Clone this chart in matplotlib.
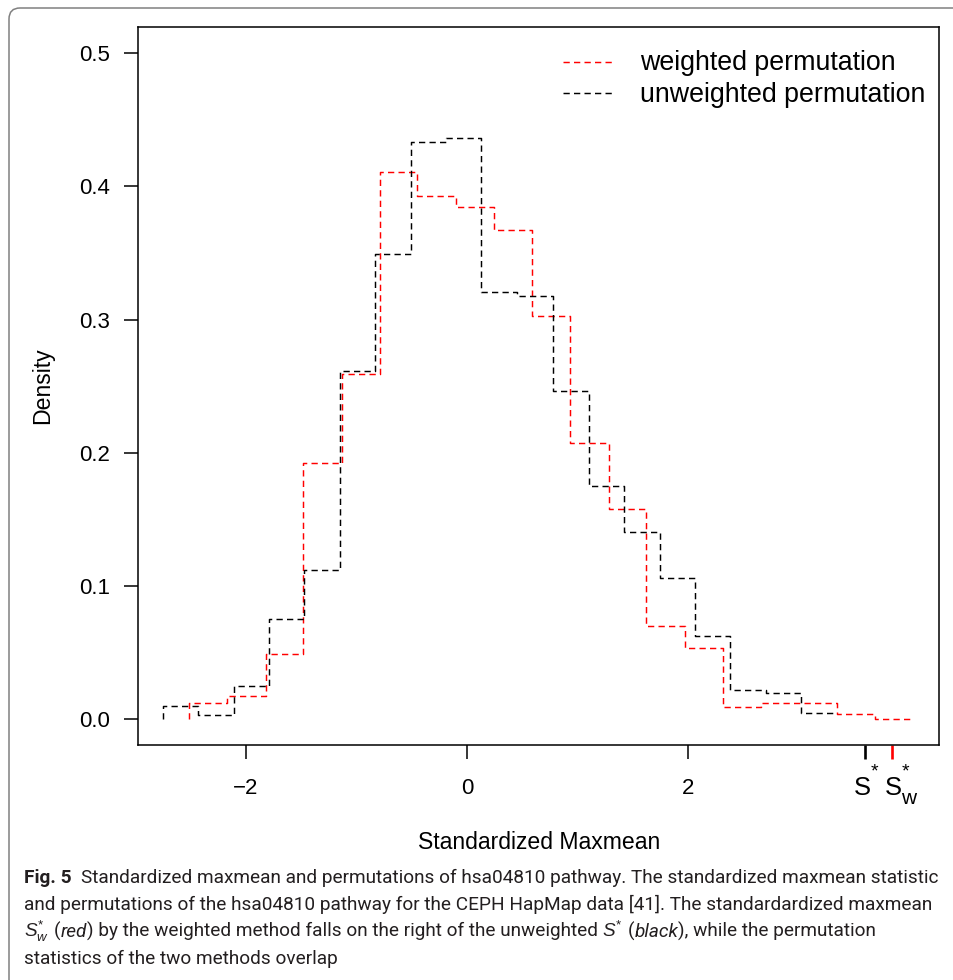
import matplotlib
matplotlib.use("Agg")
import matplotlib.pyplot as plt
from matplotlib.patches import FancyBboxPatch
from matplotlib.lines import Line2D
from matplotlib.transforms import IdentityTransform

# --- data ---
# unweighted permutation histogram (black)
black_edges = [-2.75, -2.43, -2.11, -1.79, -1.47, -1.15, -0.83, -0.51, -0.19, 0.13,
               0.45, 0.78, 1.10, 1.42, 1.74, 2.06, 2.38, 2.70, 3.02, 3.34]
black_dens = [0.0100, 0.0030, 0.0250, 0.0750, 0.1120, 0.2615, 0.3490, 0.4330, 0.4360,
              0.3210, 0.3175, 0.2460, 0.1747, 0.1404, 0.1058, 0.0624, 0.0218, 0.0193, 0.0043]

# weighted permutation histogram (red)
red_edges = [-2.51, -2.17, -1.82, -1.48, -1.13, -0.79, -0.45, -0.10, 0.24, 0.59,
             0.93, 1.28, 1.62, 1.97, 2.31, 2.66, 3.00, 3.34, 3.69, 4.03]
red_dens = [0.0118, 0.0175, 0.0490, 0.1920, 0.2590, 0.4110, 0.3930, 0.3845, 0.3670,
            0.3030, 0.2070, 0.1577, 0.0700, 0.0530, 0.0092, 0.0118, 0.0118, 0.0035, 0.0000]

# observed statistics
s_star = 3.60
s_star_w = 3.84

x_ticks = [-2, 0, 2]
y_ticks = [0.0, 0.1, 0.2, 0.3, 0.4, 0.5]
legend_labels = ["weighted permutation", "unweighted permutation"]

caption_lines = [
    [("Fig. 5", "bold"), " ", " ",
     ("Standardized maxmean and permutations of hsa04810 pathway. The standardized maxmean statistic", "normal")],
    [("and permutations of the hsa04810 pathway for the CEPH HapMap data [41]. The standardardized maxmean", "normal")],
    [(r"$S^{*}_{w}$", "math"), " ", ("(", "normal"), ("red", "italic"),
     (") by the weighted method falls on the right of the unweighted", "normal"), " ",
     (r"$S^{*}$", "math"), " ", ("(", "normal"), ("black", "italic"),
     ("), while the permutation", "normal")],
    [("statistics of the two methods overlap", "normal")],
]

# --- style ---
plt.rcParams["font.family"] = ["Liberation Sans", "DejaVu Sans"]
plt.rcParams["mathtext.fontset"] = "custom"
plt.rcParams["mathtext.rm"] = "Liberation Sans"
plt.rcParams["mathtext.it"] = "Liberation Sans:italic"
plt.rcParams["mathtext.bf"] = "Liberation Sans:bold"

W, H = 954, 980
fig = plt.figure(figsize=(W / 100, H / 100), dpi=100)

# outer rounded frame of the figure panel
frame = FancyBboxPatch((9, -60), 1100, H - 8 + 60, boxstyle="round,pad=0,rounding_size=11",
                       transform=IdentityTransform(), facecolor="none",
                       edgecolor="#808080", lw=1.1)
fig.patches.append(frame)

ax = fig.add_axes([138 / W, 1 - 745 / H, (939.3 - 138) / W, (745 - 27.3) / H])

dash = (4.3, 2.9)
ax.step(red_edges, [0] + red_dens, where="pre", color="red", lw=1.05, dashes=dash)
ax.step(black_edges, [0] + black_dens, where="pre", color="black", lw=1.05, dashes=dash)

ax.set_xlim(-2.973, 4.268)
ax.set_ylim(-0.0195, 0.5195)
ax.set_xticks(x_ticks)
ax.set_xticklabels([f"{v}".replace("-", "\u2212") for v in x_ticks])
ax.set_yticks(y_ticks)
ax.set_yticklabels([f"{v:.1f}" for v in y_ticks])
ax.tick_params(axis="both", direction="out", length=10, width=1.1, labelsize=16)
ax.tick_params(axis="x", pad=13.5)
ax.tick_params(axis="y", pad=10)
for sp in ax.spines.values():
    sp.set_linewidth(1.1)

ax.set_xlabel("Standardized Maxmean", fontsize=16.6)
ax.xaxis.label.set_va("center")
ax.xaxis.set_label_coords(0.5, -0.1365)
ax.set_ylabel("Density", fontsize=16.6)
ax.yaxis.label.set_va("center")
ax.yaxis.set_label_coords(-0.1185, 0.5)

# legend (drawn by hand to match placement)
leg_y = [0.952, 0.9078]
for lab, col, yy in zip(legend_labels, ["red", "black"], leg_y):
    ax.add_line(Line2D([0.5304, 0.5928], [yy, yy], transform=ax.transAxes,
                       color=col, lw=1.05, dashes=dash))
    ax.text(0.6265, yy - 0.0115, lab, transform=ax.transAxes, fontsize=19.3,
            va="baseline", ha="left")

# observed statistic marks under the axis
for s, col in [(s_star, "black"), (s_star_w, "red")]:
    ax.plot([s, s], [0, -14 / 717.7], transform=ax.get_xaxis_transform(),
            clip_on=False, color=col, lw=1.9, solid_capstyle="butt")


def fx(px):
    return px / W


def fy(py):
    return 1 - py / H


xs = ax.transData.transform((s_star, 0))[0]
xw = ax.transData.transform((s_star_w, 0))[0]
fig.text(fx(xs - 12), fy(795), "S", fontsize=18.4, va="baseline", ha="left")
fig.text(fx(xs + 5), fy(776), "*", fontsize=14, va="baseline", ha="left")
fig.text(fx(xw - 7.5), fy(795), "S", fontsize=18.4, va="baseline", ha="left")
fig.text(fx(xw + 10), fy(776), "*", fontsize=14, va="baseline", ha="left")
fig.text(fx(xw + 9), fy(804), "w", fontsize=15, va="baseline", ha="left")

# --- caption ---
renderer = fig.canvas.get_renderer()
cap_family = ["Liberation Sans Narrow", "Roboto"]
cap_color = "#231f20"
styles = {"normal": {}, "bold": {"fontweight": "bold"},
          "italic": {"fontstyle": "italic"}, "math": {}}


def text_width(s, size):
    t = fig.text(0, 0, s, fontsize=size, family=cap_family)
    w = t.get_window_extent(renderer).width
    t.remove()
    return w


def put_line(x0, y_px, runs, size):
    sp = text_width("n n", size) - text_width("nn", size)
    x = x0
    made = []
    for item in runs:
        if item == " ":
            x += sp
            continue
        s, st = item
        t = fig.text(fx(x), fy(y_px), s, fontsize=size, color=cap_color,
                     va="baseline", ha="left", family=cap_family, **styles[st])
        x += t.get_window_extent(renderer).width
        made.append(t)
    return x, made


cap_x0 = 24
cap_size = 13.0
end, made = put_line(cap_x0, 883, caption_lines[0], cap_size)
for t in made:
    t.remove()
cap_size = cap_size * (938 - cap_x0) / (end - cap_x0)

for line, yb in zip(caption_lines, [883, 910, 937, 964]):
    put_line(cap_x0, yb, line, cap_size)

fig.savefig("out.png", dpi=100)
